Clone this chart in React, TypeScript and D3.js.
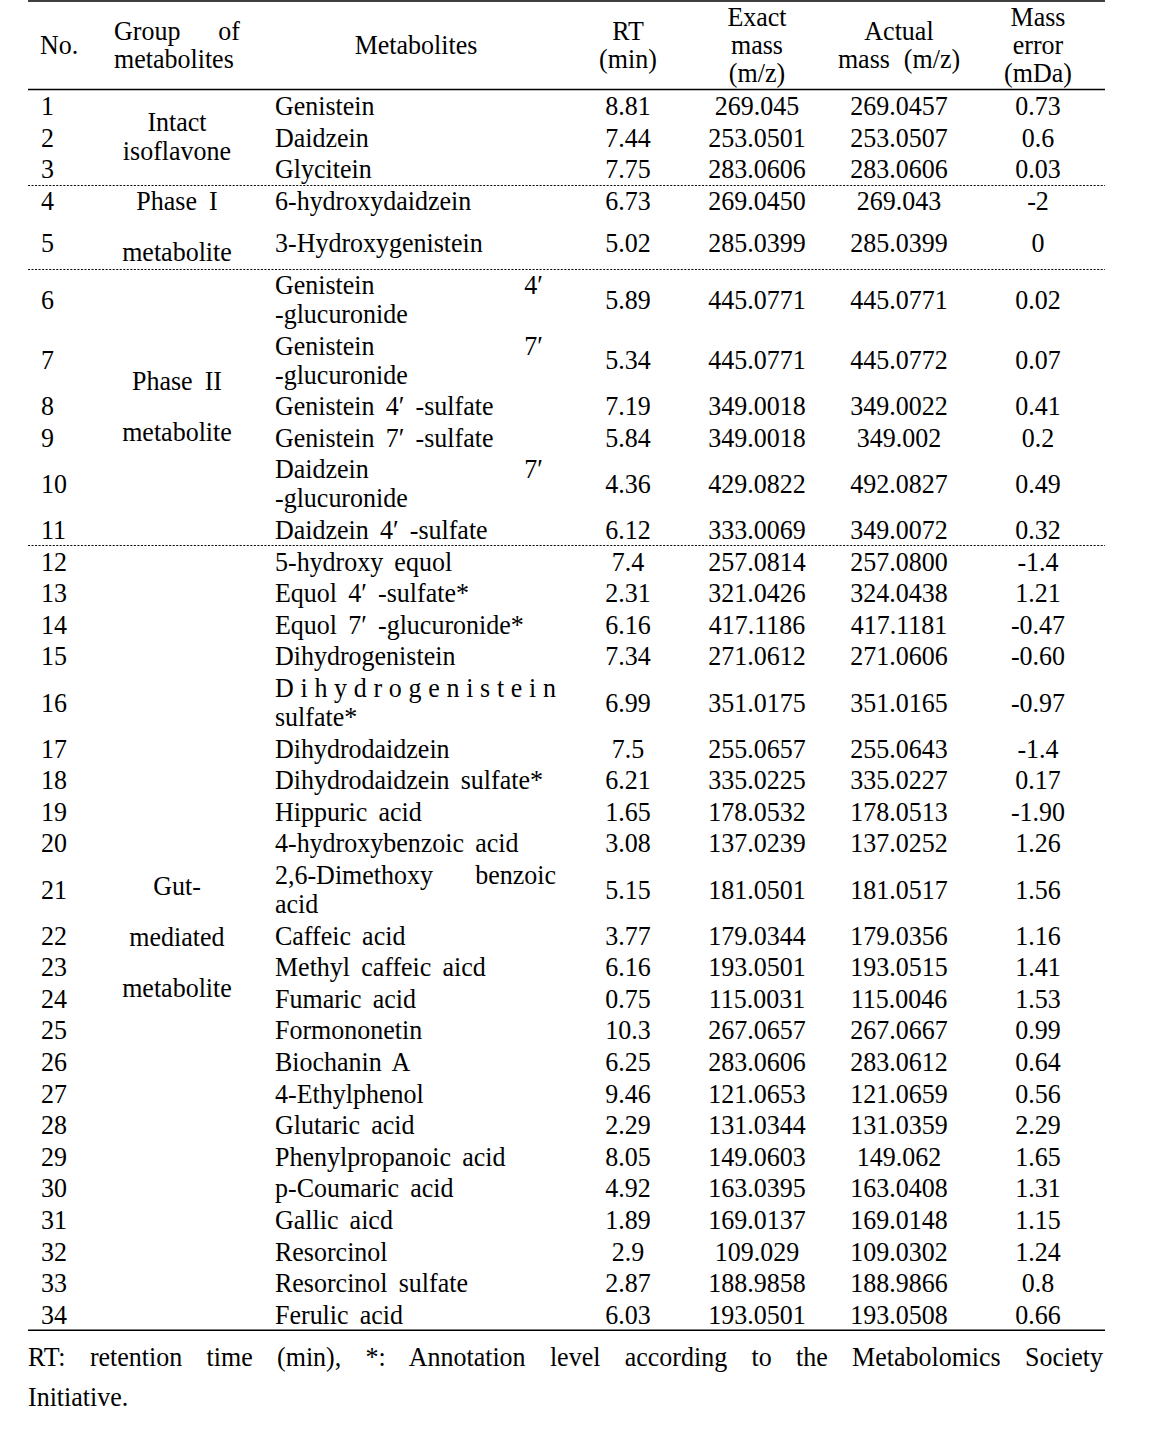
import React from 'react';
import * as d3 from 'd3';

const rowNumbers = ['1','2','3','4','5','6','7','8','9','10','11','12','13','14','15','16','17','18','19','20','21','22','23','24','25','26','27','28','29','30','31','32','33','34'];

const groupLabels: string[][] = [
  ['Intact', 'isoflavone'],
  ['Phase I', 'metabolite'],
  ['Phase II', 'metabolite'],
  ['Gut-', 'mediated', 'metabolite'],
];
const groupSizes = [3, 2, 6, 23];

const metabolites: string[][] = [
  ['Genistein'], ['Daidzein'], ['Glycitein'],
  ['6-hydroxydaidzein'], ['3-Hydroxygenistein'],
  ['Genistein 4′', '-glucuronide'], ['Genistein 7′', '-glucuronide'],
  ['Genistein 4′ -sulfate'], ['Genistein 7′ -sulfate'],
  ['Daidzein 7′', '-glucuronide'], ['Daidzein 4′ -sulfate'],
  ['5-hydroxy equol'], ['Equol 4′ -sulfate*'], ['Equol 7′ -glucuronide*'],
  ['Dihydrogenistein'], ['Dihydrogenistein', 'sulfate*'], ['Dihydrodaidzein'],
  ['Dihydrodaidzein sulfate*'], ['Hippuric acid'], ['4-hydroxybenzoic acid'],
  ['2,6-Dimethoxy benzoic', 'acid'], ['Caffeic acid'], ['Methyl caffeic aicd'],
  ['Fumaric acid'], ['Formononetin'], ['Biochanin A'], ['4-Ethylphenol'],
  ['Glutaric acid'], ['Phenylpropanoic acid'], ['p-Coumaric acid'], ['Gallic aicd'],
  ['Resorcinol'], ['Resorcinol sulfate'], ['Ferulic acid'],
];

const rtValues = ['8.81','7.44','7.75','6.73','5.02','5.89','5.34','7.19','5.84','4.36','6.12','7.4','2.31','6.16','7.34','6.99','7.5','6.21','1.65','3.08','5.15','3.77','6.16','0.75','10.3','6.25','9.46','2.29','8.05','4.92','1.89','2.9','2.87','6.03'];

const exactMass = ['269.045','253.0501','283.0606','269.0450','285.0399','445.0771','445.0771','349.0018','349.0018','429.0822','333.0069','257.0814','321.0426','417.1186','271.0612','351.0175','255.0657','335.0225','178.0532','137.0239','181.0501','179.0344','193.0501','115.0031','267.0657','283.0606','121.0653','131.0344','149.0603','163.0395','169.0137','109.029','188.9858','193.0501'];

const actualMass = ['269.0457','253.0507','283.0606','269.043','285.0399','445.0771','445.0772','349.0022','349.002','492.0827','349.0072','257.0800','324.0438','417.1181','271.0606','351.0165','255.0643','335.0227','178.0513','137.0252','181.0517','179.0356','193.0515','115.0046','267.0667','283.0612','121.0659','131.0359','149.062','163.0408','169.0148','109.0302','188.9866','193.0508'];

const massError = ['0.73','0.6','0.03','-2','0','0.02','0.07','0.41','0.2','0.49','0.32','-1.4','1.21','-0.47','-0.60','-0.97','-1.4','0.17','-1.90','1.26','1.56','1.16','1.41','1.53','0.99','0.64','0.56','2.29','1.65','1.31','1.15','1.24','0.8','0.66'];

const headerRT = ['RT', '(min)'];
const headerExact = ['Exact', 'mass', '(m/z)'];
const headerActual = ['Actual', 'mass (m/z)'];
const headerError = ['Mass', 'error', '(mDa)'];

const footnoteLines = [
  'RT: retention time (min), *: Annotation level according to the Metabolomics Society',
  'Initiative.',
];

const W = 1159;
const H = 1431;
const FS = 28;
const SX = 26 / 28;
const X = (x: number) => x / SX;
const FONT = "'Liberation Serif', 'Times New Roman', serif";

const LEFT = 28;
const RIGHT = 1105;
const TABLE_TOP = 90;
const LINE = 31.6;
const INNER = 29;
const BASE = 9.5;

const colX = d3
  .scaleOrdinal<string, number>()
  .domain(['no', 'group', 'met', 'metR', 'rt', 'exact', 'actual', 'error'])
  .range([41, 177, 275, 556, 628, 757, 899, 1038]);

function measure(text: string): number {
  if (typeof document === 'undefined') return text.length * FS * 0.45;
  const c = document.createElement('canvas');
  const ctx = c.getContext('2d');
  if (!ctx) return text.length * FS * 0.45;
  ctx.font = `${FS}px 'Liberation Serif', serif`;
  return ctx.measureText(text).width;
}

function MetLine({ text, y, justify }: { text: string; y: number; justify: boolean }) {
  const x0 = colX('met');
  const x1 = colX('metR');
  if (!justify) {
    return (
      <text x={X(x0)} y={y} wordSpacing={5}>
        {text}
      </text>
    );
  }
  const words = text.split(' ');
  if (words.length === 1) {
    return (
      <text x={X(x0)} y={y} textLength={X(x1) - X(x0)} lengthAdjust="spacing">
        {text}
      </text>
    );
  }
  const last = words[words.length - 1];
  const right = last.endsWith('′') ? x1 - 13 : x1;
  return (
    <g>
      <text x={X(x0)} y={y}>{words.slice(0, -1).join(' ')}</text>
      <text x={X(right)} y={y} textAnchor="end">{last}</text>
    </g>
  );
}

export default function App() {
  const rows: { top: number; h: number; g: number }[] = [];
  const groups: { top: number; bottom: number }[] = [];
  let y = TABLE_TOP;
  let idx = 0;
  groupSizes.forEach((n, g) => {
    const start = y;
    for (let i = 0; i < n; i++) {
      const lines = metabolites[idx].length;
      const h = Math.max(LINE + (lines - 1) * INNER, g === 1 ? 42 : 0);
      rows.push({ top: y, h, g });
      y += h;
      idx++;
    }
    groups.push({ top: start, bottom: y });
  });
  const tableBottom = y;

  const headerCenter = 45;
  const HP = 28;
  const headerLines = (lines: string[], cx: number, key: string) =>
    lines.map((t, i) => (
      <text
        key={key + i}
        x={X(cx)}
        y={headerCenter + (i - (lines.length - 1) / 2) * HP + BASE}
        textAnchor="middle"
        wordSpacing={8}
      >
        {t}
      </text>
    ));

  const fnWords = footnoteLines[0].split(' ');
  const fnNatural = measure(footnoteLines[0]);
  const fnSpacing = (X(RIGHT) - X(LEFT) - fnNatural) / (fnWords.length - 1);

  return (
    <svg
      width={W}
      height={H}
      style={{ position: 'absolute', left: 0, top: 0, background: '#fff' }}
      fontFamily={FONT}
      fontSize={FS}
      fill="#000"
    >
      <rect x={0} y={0} width={W} height={H} fill="#fff" />
      <g transform={`scale(${SX},1)`}>
        <line x1={X(LEFT)} x2={X(RIGHT)} y1={1} y2={1} stroke="#000" strokeWidth={1.5} />
        <line x1={X(LEFT)} x2={X(RIGHT)} y1={TABLE_TOP - 0.5} y2={TABLE_TOP - 0.5} stroke="#000" strokeWidth={1.5} />
        {groups.slice(0, -1).map((g, i) => (
          <line
            key={'d' + i}
            x1={X(LEFT)}
            x2={X(RIGHT)}
            y1={Math.round(g.bottom) + 0.5}
            y2={Math.round(g.bottom) + 0.5}
            stroke="#000"
            strokeWidth={1}
            strokeDasharray="2.2,1.6"
          />
        ))}
        <line x1={X(LEFT)} x2={X(RIGHT)} y1={tableBottom} y2={tableBottom} stroke="#000" strokeWidth={1.5} />

        <text x={X(40)} y={headerCenter + BASE}>No.</text>
        <text x={X(114)} y={31 + BASE}>Group</text>
        <text x={X(240)} y={31 + BASE} textAnchor="end">of</text>
        <text x={X(114)} y={59 + BASE}>metabolites</text>
        <text x={X(416)} y={headerCenter + BASE} textAnchor="middle">Metabolites</text>
        {headerLines(headerRT, colX('rt'), 'rt')}
        {headerLines(headerExact, colX('exact'), 'ex')}
        {headerLines(headerActual, colX('actual'), 'ac')}
        {headerLines(headerError, colX('error'), 'er')}

        {groups.map((g, gi) => {
          const lines = groupLabels[gi];
          const pitch = gi === 0 ? INNER : 51;
          const c = (g.top + g.bottom) / 2 - 1;
          return lines.map((t, i) => (
            <text
              key={'g' + gi + i}
              x={X(colX('group'))}
              y={c + (i - (lines.length - 1) / 2) * pitch + BASE}
              textAnchor="middle"
              wordSpacing={6}
            >
              {t}
            </text>
          ));
        })}

        {rows.map((r, i) => {
          const lines = metabolites[i];
          const c = r.top + (LINE + (lines.length - 1) * INNER) / 2;
          return (
            <g key={'r' + i}>
              <text x={X(colX('no'))} y={c + BASE}>{rowNumbers[i]}</text>
              {lines.map((t, li) => (
                <MetLine
                  key={li}
                  text={t}
                  y={c + (li - (lines.length - 1) / 2) * INNER + BASE}
                  justify={li < lines.length - 1}
                />
              ))}
              <text x={X(colX('rt'))} y={c + BASE} textAnchor="middle">{rtValues[i]}</text>
              <text x={X(colX('exact'))} y={c + BASE} textAnchor="middle">{exactMass[i]}</text>
              <text x={X(colX('actual'))} y={c + BASE} textAnchor="middle">{actualMass[i]}</text>
              <text x={X(colX('error'))} y={c + BASE} textAnchor="middle">{massError[i]}</text>
            </g>
          );
        })}

        <text x={X(LEFT)} y={1357 + BASE} wordSpacing={fnSpacing}>
          {footnoteLines[0]}
        </text>
        <text x={X(LEFT)} y={1397 + BASE}>{footnoteLines[1]}</text>
      </g>
    </svg>
  );
}
